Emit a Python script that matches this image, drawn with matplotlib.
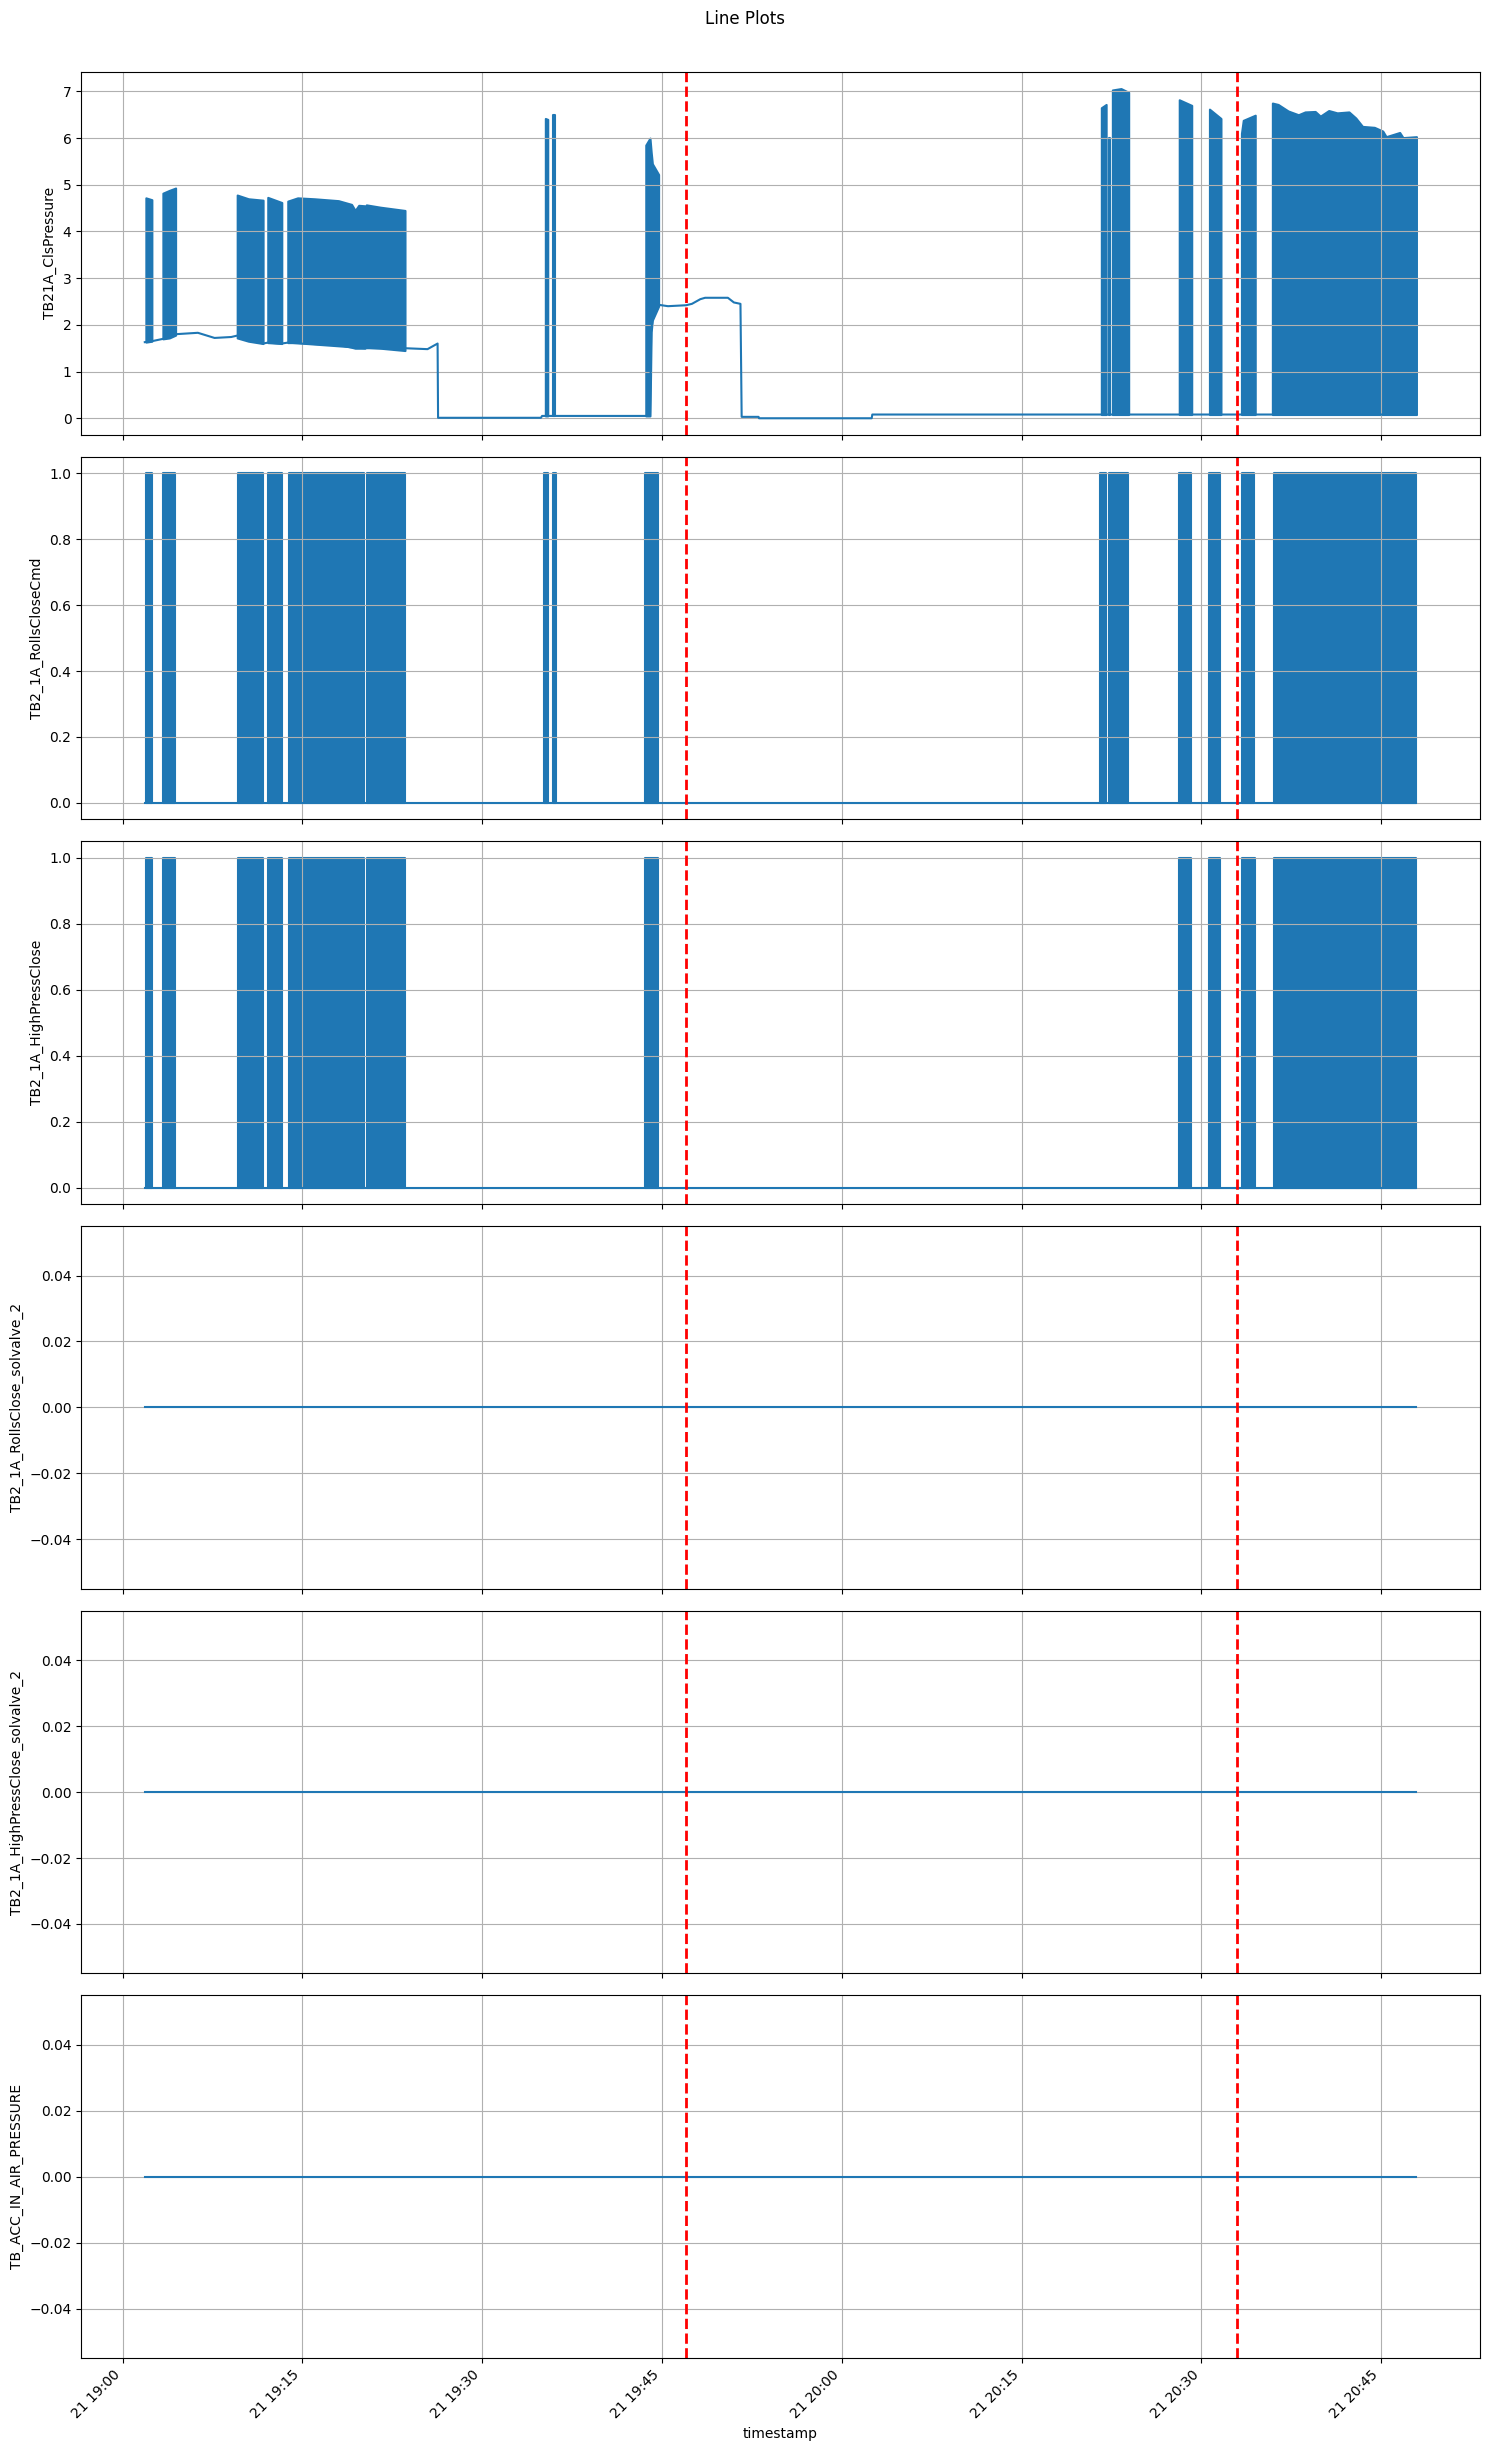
import matplotlib
matplotlib.use("Agg")
import matplotlib.pyplot as plt
import numpy as np
import pandas as pd

# times are minutes after 19:00 on the 21st
start_day = pd.Timestamp("2024-05-21 19:00")
t_first = 1.85
t_last = 107.95
event_times = [47.0, 93.0]

# TB21A_ClsPressure: the slow base line
cls_base_t = [1.85, 2.44, 3.36, 4.42, 6.28, 7.67, 9.06, 9.56, 11.72, 12.11, 13.28,
              13.78, 20.22, 23.56, 25.44, 26.28, 26.32, 34.9, 35.0, 43.65, 44.0,
              44.1, 44.2, 44.72, 45.5, 47.0, 47.5, 48.2, 48.6, 50.5, 51.0, 51.55,
              51.65, 53.06, 53.1, 62.5, 62.55, 81.6, 107.95]
cls_base_v = [1.63, 1.65, 1.70, 1.80, 1.83, 1.72, 1.74, 1.77, 1.60, 1.62, 1.60,
              1.62, 1.50, 1.50, 1.48, 1.60, 0.01, 0.01, 0.05, 0.05, 0.05,
              1.85, 2.10, 2.43, 2.40, 2.42, 2.45, 2.55, 2.58, 2.58, 2.48, 2.45,
              0.03, 0.03, 0.0, 0.0, 0.08, 0.08, 0.08]

# TB21A_ClsPressure: dense switching bursts (time, upper and lower envelope)
cls_burst_t = [
    [1.94, 2.44],
    [3.36, 3.9, 4.42],
    [9.56, 10.5, 11.72],
    [12.11, 13.28],
    [13.78, 14.6, 16.0, 18.0, 19.1, 19.4, 19.7, 20.22],
    [20.33, 21.5, 23.56],
    [35.27, 35.47],
    [35.94, 36.10],
    [43.65, 44.0, 44.1, 44.2, 44.72],
    [81.66, 82.06],
    [82.30, 82.40],
    [82.58, 83.3, 83.94],
    [88.16, 89.2],
    [90.68, 91.64],
    [93.35, 93.5, 94.5],
    [95.93, 96.41, 97.25, 98.1, 98.66, 99.5, 99.93, 100.63, 101.34, 102.32,
     102.89, 103.45, 104.44, 105.14, 105.42, 106.55, 106.83, 107.95],
]
cls_burst_hi = [
    [4.72, 4.68],
    [4.82, 4.88, 4.93],
    [4.78, 4.70, 4.67],
    [4.73, 4.62],
    [4.65, 4.72, 4.70, 4.66, 4.58, 4.45, 4.56, 4.55],
    [4.57, 4.52, 4.45],
    [6.42, 6.40],
    [6.50, 6.50],
    [5.85, 6.0, 5.7, 5.45, 5.22],
    [6.65, 6.72],
    [6.0, 6.0],
    [7.03, 7.06, 6.98],
    [6.82, 6.70],
    [6.62, 6.42],
    [6.10, 6.38, 6.49],
    [6.75, 6.72, 6.58, 6.50, 6.56, 6.57, 6.47, 6.59, 6.54, 6.56,
     6.43, 6.25, 6.23, 6.15, 6.03, 6.12, 6.01, 6.03],
]
cls_burst_lo = [
    [1.63, 1.65],
    [1.70, 1.72, 1.78],
    [1.72, 1.65, 1.60],
    [1.62, 1.60],
    [1.62, 1.62, 1.60, 1.58, 1.52, 1.50, 1.50, 1.50],
    [1.52, 1.50, 1.45],
    [0.05, 0.05],
    [0.05, 0.05],
    [0.05, 0.05, 1.85, 2.1, 2.4],
    [0.08, 0.08],
    [0.08, 0.08],
    [0.08, 0.08, 0.08],
    [0.08, 0.08],
    [0.08, 0.08],
    [0.08, 0.08, 0.08],
    [0.08] * 18,
]

# TB2_1A_RollsCloseCmd: on/off bursts (0 <-> 1)
cmd_on_start = [1.91, 3.37, 9.60, 12.13, 13.85, 20.36, 35.20, 35.93, 43.62,
                81.58, 82.27, 88.12, 90.65, 93.40, 96.08]
cmd_on_end = [2.49, 4.40, 11.70, 13.28, 20.17, 23.53, 35.47, 36.12, 44.69,
              82.04, 83.88, 89.16, 91.57, 94.40, 107.95]

# TB2_1A_HighPressClose: on/off bursts (0 <-> 1)
hp_on_start = [1.91, 3.40, 9.60, 12.13, 13.85, 20.36, 43.62, 88.10, 90.65,
               93.40, 96.08]
hp_on_end = [2.49, 4.40, 11.75, 13.28, 20.17, 23.53, 44.69, 89.16, 91.60,
             94.45, 107.92]

# flat channels
flat_t = [t_first, t_last]
flat_v = [0.0, 0.0]

labels = ["TB21A_ClsPressure", "TB2_1A_RollsCloseCmd", "TB2_1A_HighPressClose",
          "TB2_1A_RollsClose_solvalve_2", "TB2_1A_HighPressClose_solvalve_2",
          "TB_ACC_IN_AIR_PRESSURE"]


def to_time(mins):
    return np.asarray(start_day + pd.to_timedelta(np.asarray(mins, dtype=float), unit="min"))


def draw_bursts(ax, t_list, lo_list, hi_list):
    for t, lo, hi in zip(t_list, lo_list, hi_list):
        ax.fill_between(to_time(t), lo, hi, color="C0", linewidth=1.5)


def onoff_bursts(ax, starts, ends):
    for s, e in zip(starts, ends):
        ax.fill_between(to_time([s, e]), [0, 0], [1, 1], color="C0", linewidth=1.5)


fig, axes = plt.subplots(6, 1, figsize=(14.9, 24.52), dpi=100, sharex=True)
fig.subplots_adjust(left=0.0545, right=0.9933, top=0.9706, bottom=0.0383, hspace=0.0607)
fig.suptitle("Line Plots", y=0.9923, va="center")

# panel 1
axes[0].plot(to_time(cls_base_t), cls_base_v, color="C0")
draw_bursts(axes[0], cls_burst_t, cls_burst_lo, cls_burst_hi)

# panels 2 and 3
axes[1].plot(to_time(flat_t), flat_v, color="C0")
onoff_bursts(axes[1], cmd_on_start, cmd_on_end)
axes[2].plot(to_time(flat_t), flat_v, color="C0")
onoff_bursts(axes[2], hp_on_start, hp_on_end)

# panels 4-6
for ax in axes[3:]:
    ax.plot(to_time(flat_t), flat_v, color="C0")

for ax, lab in zip(axes, labels):
    ax.set_ylabel(lab)
    ax.grid(True)
    for et in to_time(event_times):
        ax.axvline(et, color="red", linestyle="--", linewidth=2)

axes[-1].set_xlabel("timestamp")
plt.setp(axes[-1].get_xticklabels(), rotation=45, ha="right")

fig.savefig("out.png", dpi=100)
